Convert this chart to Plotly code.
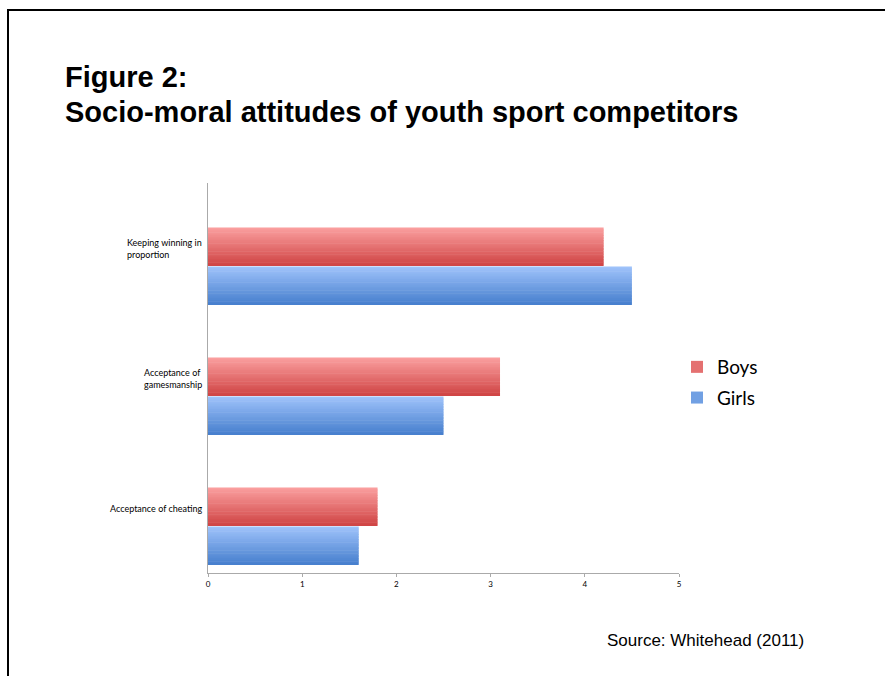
import plotly.graph_objects as go

categories = ["Acceptance of cheating", "Acceptance of gamesmanship", "Keeping winning in proportion"]
cat_labels = ["Acceptance of cheating", "Acceptance of<br>gamesmanship", "Keeping winning in<br>proportion"]
boys = [1.8, 3.1, 4.2]
girls = [1.6, 2.5, 4.5]
x_ticks = [0, 1, 2, 3, 4, 5]

W, H = 885, 676
L, R, T, B = 208, 679, 183, 573


def px(x):
    return (x - L) / (R - L)


def py(y):
    return (B - y) / (B - T)


def lerp(c1, c2, t):
    return "rgb(%d,%d,%d)" % tuple(round(a + (b - a) * t) for a, b in zip(c1, c2))


fig = go.Figure()

bar_h = 0.292
n_slices = 24
series = [
    ("Boys", boys, (250, 158, 158), (208, 70, 70), -0.138, 1),
    ("Girls", girls, (158, 194, 250), (72, 128, 206), -0.438, 2),
]
for name, vals, top, bot, base_off, rank in series:
    for i in range(n_slices):
        t = i / (n_slices - 1)
        off = base_off + bar_h - (i + 1) * bar_h / n_slices
        fig.add_trace(go.Bar(
            y=categories, x=vals, orientation="h",
            offset=off, width=bar_h / n_slices + 0.004,
            marker=dict(color=lerp(top, bot, t), line=dict(width=0)),
            name=name, legendgroup=name, legendrank=rank,
            showlegend=(i == n_slices // 2),
            hoverinfo="skip" if i != n_slices // 2 else None,
        ))

annotations = [
    dict(text="<b>Figure 2:</b>", x=px(63), y=py(77), xref="paper", yref="paper",
         xanchor="left", yanchor="middle", showarrow=False,
         font=dict(family="Liberation Sans, Arial", size=29, color="#000")),
    dict(text="<b>Socio-moral attitudes of youth sport competitors</b>", x=px(63), y=py(112),
         xref="paper", yref="paper", xanchor="left", yanchor="middle", showarrow=False,
         font=dict(family="Liberation Sans, Arial", size=29, color="#000")),
    dict(text="Source: Whitehead (2011)", x=px(605), y=py(640), xref="paper", yref="paper",
         xanchor="left", yanchor="middle", showarrow=False,
         font=dict(family="Liberation Sans, Arial", size=17, color="#000")),
]
for c, lab in zip(categories, cat_labels):
    annotations.append(dict(text=lab, x=px(204), y=c, xref="paper", yref="y",
                            xanchor="right", yanchor="middle", align="left",
                            showarrow=False,
                            font=dict(family="Lato, Open Sans", size=9, color="#000")))

fig.update_layout(
    width=W, height=H,
    margin=dict(l=L, r=W - R, t=T, b=H - B, pad=0),
    paper_bgcolor="white", plot_bgcolor="white",
    barmode="overlay",
    showlegend=True,
    legend=dict(x=px(677), y=py(348), xanchor="left", yanchor="top",
                font=dict(family="Lato, Open Sans", size=19, color="#000"),
                bgcolor="rgba(0,0,0,0)", tracegroupgap=3, itemwidth=30),
    xaxis=dict(range=[0, 5], tickvals=x_ticks, showgrid=False, zeroline=False,
               showline=True, linecolor="#AAAAAA", linewidth=1,
               ticks="outside", ticklen=3, tickcolor="#AAAAAA",
               tickfont=dict(family="Lato, Open Sans", size=8, color="#000")),
    yaxis=dict(categoryorder="array", categoryarray=categories, range=[-0.5, 2.5],
               showticklabels=False, showgrid=False, zeroline=False,
               showline=True, linecolor="#AAAAAA", linewidth=1, ticks=""),
    annotations=annotations,
    shapes=[
        dict(type="line", xref="paper", yref="paper", x0=px(7), x1=px(886), y0=py(10), y1=py(10),
             line=dict(color="#000", width=2)),
        dict(type="line", xref="paper", yref="paper", x0=px(8), x1=px(8), y0=py(9), y1=py(677),
             line=dict(color="#000", width=2)),
    ],
)

fig.write_html("out.html", config={"displayModeBar": False},
               post_script="document.body.style.margin='0';")
